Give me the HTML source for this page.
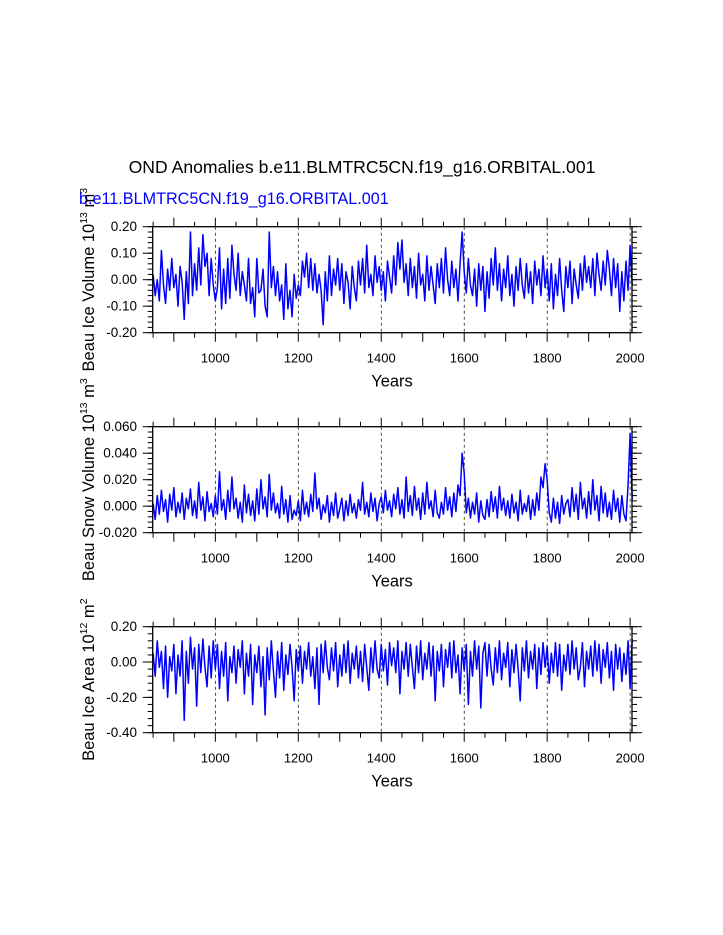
<!DOCTYPE html>
<html><head><meta charset="utf-8"><style>
body{margin:0;background:#fff}
svg{display:block;font-family:"Liberation Sans",sans-serif}
</style></head><body>
<svg id="chart" width="723" height="935" xmlns="http://www.w3.org/2000/svg">
<rect width="723" height="935" fill="#fff"/>
<text x="362" y="173" text-anchor="middle" font-size="17.6">OND Anomalies b.e11.BLMTRC5CN.f19_g16.ORBITAL.001</text>
<text x="79" y="204" font-size="16.2" fill="#0000ff">b.e11.BLMTRC5CN.f19_g16.ORBITAL.001</text>
</svg>
<script>
const startYear = 850, stepYears = 5;
const iceVolume = [
2,-6,0,-8,11,-2,-9,4,-4,8,
-3,2,-10,5,-1,-15,3,-9,18,-6,
6,-4,12,-2,17,5,10,-6,8,-2,
-8,-3,12,-11,4,-9,8,-7,13,2,
-4,10,-6,3,-2,-8,8,-9,-3,-14,
8,-5,-4,4,-10,-14,18,-3,5,-6,
3,-8,-2,-15,6,-11,-4,-14,2,-7,
-2,-6,7,1,10,-3,8,-4,6,-5,
2,-4,-17,3,-8,9,-6,4,-2,8,
-4,6,-9,3,-1,-11,5,-3,-8,7,
-2,8,-5,13,-3,2,-6,9,-1,5,
-4,3,-8,7,1,-5,9,-2,14,4,
15,-1,6,-6,8,-3,5,-7,10,-2,
2,-8,9,-4,5,-2,-9,6,-3,8,
-5,12,0,-6,7,-3,4,-8,6,18,
3,-5,8,-2,-6,4,-10,6,-4,5,
-12,3,-7,8,-2,12,-4,6,-8,4,
-3,9,-6,2,-10,5,-4,8,-2,-7,
6,-5,3,-9,7,-2,4,-6,9,-3,
4,-8,6,-11,2,-6,8,-4,-12,5,
-3,7,-9,4,-2,-7,6,-4,9,-1,
5,-3,8,-6,10,2,-4,7,-2,11,
4,-6,8,-3,6,-12,3,-8,7,-4,
13,-2];
const snowVolume = [
2,-10,8,-6,12,-4,5,-12,9,-3,
14,-8,3,-5,10,-10,6,-2,13,-7,
4,-9,18,-3,7,-11,11,-4,2,-8,
8,-6,26,-3,5,-10,12,-4,22,-2,
6,-9,3,-12,16,-5,9,-7,4,-11,
13,-6,20,-2,7,-8,24,-3,10,-5,
2,-9,15,-6,5,-12,8,-10,-3,-7,
4,-11,12,-6,3,-8,9,-4,25,-2,
6,-10,1,-5,8,-12,3,-7,10,-9,
-2,6,-11,4,-7,9,-5,2,-9,5,
-3,18,-6,3,-8,10,-4,6,-11,2,
7,-5,12,-3,4,-8,9,-2,14,-6,
5,-9,22,-4,8,-7,15,-3,6,-10,
10,-6,18,-2,4,-8,12,-5,-9,3,
-6,14,-3,7,-8,10,-4,16,8,40,
25,-5,6,-9,3,-6,10,-12,4,-7,
-10,5,-8,11,-4,7,-9,15,-3,6,
-7,4,-9,9,-5,3,-11,12,-6,2,
-4,8,-10,5,-7,10,-3,22,14,32,
20,-5,-12,6,-9,3,-13,8,-6,2,
5,-8,14,-4,9,-10,18,-2,6,-9,
11,-6,20,-3,8,-11,15,-5,10,-8,
3,-10,12,-4,6,-12,8,-6,-11,16,
55,5];
const iceArea = [
5,-8,12,-3,6,-15,9,-20,3,-5,
10,-18,4,-8,12,-33,6,-12,14,-4,
8,-25,10,-6,13,-3,-14,9,-9,12,
-4,10,-15,6,-8,11,-22,3,-6,9,
-12,7,-3,12,-18,5,-8,10,-24,4,
-6,9,-14,3,-30,8,-10,12,-5,-20,
6,-9,11,-16,4,-7,10,-3,-22,7,
-5,9,-12,6,-4,11,-8,3,-15,8,
-24,10,-6,12,-3,-10,8,-5,11,-14,
4,-8,10,-6,12,-12,5,-4,9,-9,
6,-11,10,-3,-16,8,-6,12,-4,-9,
10,-5,7,-13,11,-2,8,-6,12,-18,
6,-4,11,-8,10,-3,-15,9,-6,12,
-10,5,-4,11,-8,9,-22,6,-5,10,
-14,7,-3,11,-9,12,-6,4,-18,8,
-5,10,-24,6,-8,12,-4,9,-26,5,
11,-8,10,-4,-13,8,-6,12,-10,5,
-3,11,-14,7,-6,10,-4,-22,8,-5,
12,-9,6,-4,10,-15,8,-7,11,-3,
9,-12,5,-6,11,-8,10,-16,4,-5,
10,-7,12,-4,8,-10,-3,11,-14,6,
-4,9,-8,12,-5,10,-12,7,-3,11,
-9,6,-16,10,-4,8,-11,5,-7,12,
-15,13];
const xTickLabels = [1000,1200,1400,1600,1800,2000];
const iceVolTicks = ["0.20","0.10","0.00","-0.10","-0.20"];
const snowTicks = ["0.060","0.040","0.020","0.000","-0.020"];
const areaTicks = ["0.20","0.00","-0.20","-0.40"];

const NS="http://www.w3.org/2000/svg";
const svg=document.getElementById('chart');
function mk(tag,attrs,parent){const e=document.createElementNS(NS,tag);for(const k in attrs)e.setAttribute(k,attrs[k]);(parent||svg).appendChild(e);return e;}
const X0=152.7,X1=632,YR0=849,YR1=2004.5;
function xs(yr){return X0+(yr-YR0)/(YR1-YR0)*(X1-X0);}

function panel(name,top,vals,unit,ymin,ymax,ticks,minorStep,titleMain,exp,units,uexp){
  const H=106,bot=top+H;
  const g=mk('g',{});
  
  
  const ys=v=>bot-(v-ymin)/(ymax-ymin)*H;
  xTickLabels.forEach(yr=>{
    const l=mk('line',{x1:xs(yr),x2:xs(yr),y1:top,y2:bot,stroke:'#000','stroke-width':0.7,'stroke-dasharray':'3,3'},g);
    
    
  });
  let d='';
  vals.forEach((v,i)=>{const yr=startYear+i*stepYears;d+=(i?'L':'M')+xs(yr).toFixed(2)+','+ys(v*unit).toFixed(2);});
  const p=mk('path',{d:d,fill:'none',stroke:'#0000ff','stroke-width':1.5,'stroke-linejoin':'round'},g);
  
  
  const f=mk('rect',{x:X0,y:top,width:X1-X0,height:H,fill:'none',stroke:'#000','stroke-width':1.3},g);
  
  
  for(let yr=850;yr<=2000;yr+=50){
    const major=yr%100===0, len=major?9:5;
    mk('line',{x1:xs(yr),x2:xs(yr),y1:bot,y2:bot+len,stroke:'#000','stroke-width':1},g);
    mk('line',{x1:xs(yr),x2:xs(yr),y1:top,y2:top-len,stroke:'#000','stroke-width':1},g);
  }
  xTickLabels.forEach(yr=>{
    const t=mk('text',{x:xs(yr),y:bot+30,'text-anchor':'middle','font-size':13},g);
    
    
    t.textContent=yr;
  });
  const xt=mk('text',{x:392,y:bot+54,'text-anchor':'middle','font-size':16.5},g);
  
  
  xt.textContent='Years';
  for(let v=ymin;v<=ymax+1e-9;v+=minorStep){
    const y=ys(v);
    mk('line',{x1:X0,x2:X0-5,y1:y,y2:y,stroke:'#000','stroke-width':1},g);
    mk('line',{x1:X1,x2:X1+5,y1:y,y2:y,stroke:'#000','stroke-width':1},g);
  }
  ticks.forEach((s,i)=>{
    const v=parseFloat(s),y=ys(v);
    mk('line',{x1:X0,x2:X0-10,y1:y,y2:y,stroke:'#000','stroke-width':1},g);
    mk('line',{x1:X1,x2:X1+10,y1:y,y2:y,stroke:'#000','stroke-width':1},g);
    const t=mk('text',{x:137,y:y+4.5,'text-anchor':'end','font-size':13.5},g);
    
    
    t.textContent=s;
  });
  const cy=top+H/2;
  const yt=mk('text',{x:0,y:0,'text-anchor':'middle','font-size':16.5,transform:`translate(94,${cy}) rotate(-90)`},g);
  
  
  const a=mk('tspan',{},yt);a.textContent=titleMain+' 10';
  const b=mk('tspan',{'font-size':10.5,dy:-7},yt);b.textContent=exp;
  const c=mk('tspan',{dy:7},yt);c.textContent=' '+units;
  const e=mk('tspan',{'font-size':10.5,dy:-7},yt);e.textContent=uexp;
}
panel('ice-volume',226.7,iceVolume,0.01,-0.2,0.2,iceVolTicks,0.02,'Beau Ice Volume','13','m','3');
panel('snow-volume',426.7,snowVolume,0.001,-0.02,0.06,snowTicks,0.004,'Beau Snow Volume','13','m','3');
panel('ice-area',626.7,iceArea,0.01,-0.4,0.2,areaTicks,0.04,'Beau Ice Area','12','m','2');
</script>
</body></html>
